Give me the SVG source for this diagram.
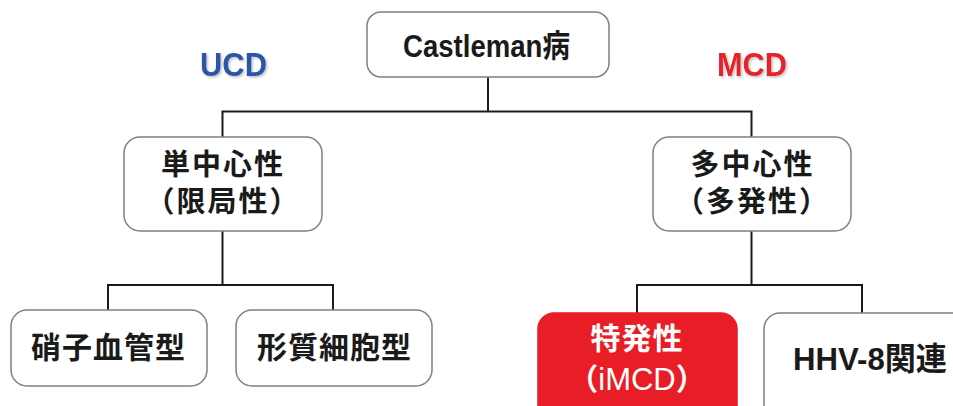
<svg xmlns="http://www.w3.org/2000/svg" width="953" height="406" viewBox="0 0 953 406">
<defs>
<style>
.box{fill:#fff;stroke:#808080;stroke-width:1.5}
.red{fill:#e81d25;stroke:#e81d25;stroke-width:1.5}
.jp{font-family:"Noto Sans CJK JP",sans-serif;font-weight:bold;font-size:30px;fill:#1a1a1a;text-anchor:middle;letter-spacing:1px}
.two{font-size:29px;letter-spacing:2px}
.lat{font-family:"Liberation Sans","Noto Sans CJK JP",sans-serif;font-weight:bold;font-size:32px;fill:#1a1a1a;text-anchor:middle}
.conn{stroke:#1a1a1a;stroke-width:2;fill:none}
.w{fill:#fff}
</style>
<filter id="sh" x="-20%" y="-20%" width="140%" height="150%">
<feDropShadow dx="1.5" dy="1.5" stdDeviation="1.2" flood-color="#999" flood-opacity="0.6"/>
</filter>
</defs>
<rect width="953" height="406" fill="#fff"/>
<g id="connectors">
<path class="conn" d="M488 77 V111.5"/>
<path class="conn" d="M222.5 137 V111.5 H751.5 V137"/>
<path class="conn" d="M222.5 231 V285"/>
<path class="conn" d="M108 310 V285 H333 V310"/>
<path class="conn" d="M751.5 231 V285"/>
<path class="conn" d="M637 313 V285 H862 V313"/>
</g>
<g id="label-ucd">
<text x="233.5" y="76" class="lat" style="font-size:33px;fill:#2a54a8" textLength="67" lengthAdjust="spacingAndGlyphs" filter="url(#sh)">UCD</text>
</g>
<g id="label-mcd">
<text x="752" y="76" class="lat" style="font-size:33px;fill:#e8202a" textLength="70" lengthAdjust="spacingAndGlyphs" filter="url(#sh)">MCD</text>
</g>
<g id="node-castleman">
<rect class="box" x="367" y="12" width="242" height="65" rx="14"/>
<text x="486.5" y="57" class="lat" textLength="167" lengthAdjust="spacingAndGlyphs">Castleman病</text>
</g>
<g id="node-ucd">
<rect class="box" x="124" y="137" width="198" height="94" rx="16"/>
<text x="223" y="175" class="jp two">単中心性</text>
<text x="223" y="212" class="jp two">（限局性）</text>
</g>
<g id="node-mcd">
<rect class="box" x="653" y="137" width="198" height="94" rx="16"/>
<text x="752.5" y="175" class="jp two">多中心性</text>
<text x="752.5" y="212" class="jp two">（多発性）</text>
</g>
<g id="node-hyaline">
<rect class="box" x="11" y="310" width="196" height="76" rx="16"/>
<text x="108.5" y="358" class="jp">硝子血管型</text>
</g>
<g id="node-plasma">
<rect class="box" x="236" y="310" width="196" height="76" rx="16"/>
<text x="334.5" y="358" class="jp">形質細胞型</text>
</g>
<g id="node-imcd">
<rect class="red" x="538" y="313" width="199" height="110" rx="16"/>
<text x="637" y="349" class="jp w">特発性</text>
<text x="637" y="390" class="jp w" style="letter-spacing:0">（<tspan style="font-family:'Liberation Sans',sans-serif;font-weight:normal;font-size:31px">iMCD</tspan>）</text>
</g>
<g id="node-hhv8">
<rect class="box" x="764" y="313" width="210" height="110" rx="16"/>
<text x="870" y="370" class="lat" textLength="154" lengthAdjust="spacingAndGlyphs">HHV-8関連</text>
</g>
</svg>
